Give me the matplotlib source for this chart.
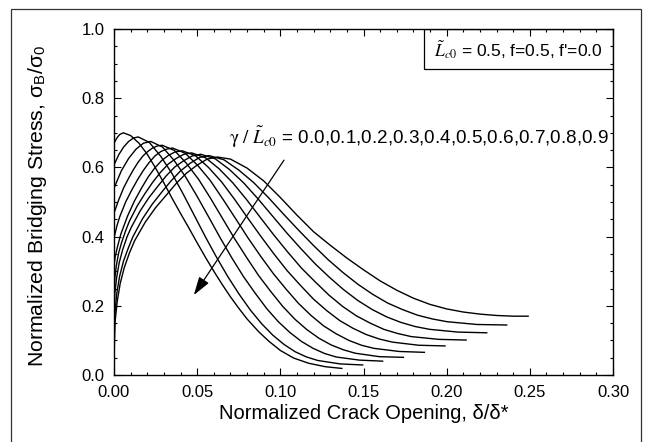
import matplotlib
matplotlib.use("Agg")
import matplotlib.pyplot as plt
from matplotlib.patches import Rectangle
from matplotlib.ticker import MultipleLocator, FormatStrFormatter

plt.rcParams["font.family"] = ["Liberation Sans", "DejaVu Sans"]
plt.rcParams["mathtext.fontset"] = "stix"

# gamma / L_c0 for each curve
GAMMA = [0.0, 0.1, 0.2, 0.3, 0.4, 0.5, 0.6, 0.7, 0.8, 0.9]

# normalized crack opening delta/delta*
DELTA = [
    [0, 0.0017, 0.0034, 0.0056, 0.010, 0.015, 0.020, 0.025, 0.030, 0.035, 0.040,
     0.045, 0.050, 0.055, 0.060, 0.065, 0.070, 0.075, 0.080, 0.087, 0.093, 0.100,
     0.108, 0.117, 0.127, 0.137],
    [0, 0.0029, 0.0058, 0.0088, 0.0117, 0.0146, 0.0213, 0.0281, 0.0348, 0.0416,
     0.0483, 0.0551, 0.0618, 0.0686, 0.0753, 0.0821, 0.0888, 0.0955, 0.1023,
     0.1090, 0.1158, 0.1225, 0.1360, 0.1495],
    [0, 0.0044, 0.0088, 0.0133, 0.0177, 0.0221, 0.0291, 0.0360, 0.0430, 0.0500,
     0.0570, 0.0639, 0.0709, 0.0779, 0.0848, 0.0918, 0.0988, 0.1057, 0.1127,
     0.1197, 0.1267, 0.1336, 0.1476, 0.1615],
    [0, 0.0029, 0.0058, 0.0087, 0.0116, 0.0145, 0.0174, 0.0203, 0.0232, 0.0261,
     0.0290, 0.0363, 0.0435, 0.0508, 0.0580, 0.0653, 0.0725, 0.0798, 0.0870,
     0.0943, 0.1015, 0.1088, 0.1160, 0.1233, 0.1305, 0.1378, 0.1450, 0.1595,
     0.1740],
    [0, 0.0018, 0.0035, 0.0070, 0.0106, 0.0141, 0.0176, 0.0211, 0.0246, 0.0282,
     0.0317, 0.0352, 0.0428, 0.0503, 0.0579, 0.0655, 0.0731, 0.0806, 0.0882,
     0.0958, 0.1033, 0.1109, 0.1185, 0.1260, 0.1336, 0.1412, 0.1488, 0.1563,
     0.1715, 0.1866],
    [0, 0.0008, 0.0021, 0.0041, 0.0082, 0.0123, 0.0164, 0.0205, 0.0246, 0.0287,
     0.0328, 0.0369, 0.0410, 0.0489, 0.0568, 0.0647, 0.0726, 0.0805, 0.0884,
     0.0963, 0.1042, 0.1121, 0.1200, 0.1279, 0.1358, 0.1437, 0.1516, 0.1595,
     0.1674, 0.1832, 0.1990],
    [0, 0.0005, 0.0014, 0.0028, 0.0047, 0.0070, 0.0093, 0.0140, 0.0187, 0.0234,
     0.0280, 0.0327, 0.0374, 0.0420, 0.0467, 0.0550, 0.0632, 0.0715, 0.0797,
     0.0880, 0.0962, 0.1045, 0.1127, 0.1210, 0.1292, 0.1375, 0.1457, 0.1540,
     0.1622, 0.1705, 0.1787, 0.1952, 0.2117],
    [0, 0.0005, 0.0016, 0.0031, 0.0052, 0.0078, 0.0104, 0.0157, 0.0209, 0.0261,
     0.0313, 0.0365, 0.0418, 0.0470, 0.0522, 0.0608, 0.0694, 0.0780, 0.0866,
     0.0952, 0.1038, 0.1124, 0.1210, 0.1296, 0.1382, 0.1467, 0.1553, 0.1639,
     0.1725, 0.1811, 0.1897, 0.2069, 0.2241],
    [0, 0.0006, 0.0017, 0.0034, 0.0057, 0.0086, 0.0114, 0.0172, 0.0229, 0.0286,
     0.0343, 0.0400, 0.0458, 0.0515, 0.0572, 0.0661, 0.0751, 0.0840, 0.0930,
     0.1019, 0.1109, 0.1198, 0.1288, 0.1377, 0.1467, 0.1556, 0.1645, 0.1735,
     0.1824, 0.1914, 0.2003, 0.2182, 0.2361],
    [0, 0.0006, 0.0019, 0.0037, 0.0062, 0.0093, 0.0124, 0.0187, 0.0249, 0.0311,
     0.0373, 0.0435, 0.0498, 0.0560, 0.0622, 0.070, 0.080, 0.090, 0.100, 0.110,
     0.120, 0.130, 0.140, 0.150, 0.160, 0.170, 0.180, 0.190, 0.200, 0.210, 0.220,
     0.230, 0.240, 0.249],
]

# normalized bridging stress sigma_B/sigma_0
SIGMA = [
    [0.670, 0.685, 0.695, 0.700, 0.692, 0.670, 0.638, 0.598, 0.555, 0.510, 0.467,
     0.425, 0.382, 0.340, 0.300, 0.262, 0.226, 0.193, 0.162, 0.125, 0.098, 0.071,
     0.049, 0.034, 0.024, 0.019],
    [0.607, 0.637, 0.659, 0.675, 0.685, 0.688, 0.672, 0.632, 0.583, 0.523,
     0.461, 0.398, 0.339, 0.283, 0.233, 0.187, 0.148, 0.115, 0.088,
     0.067, 0.052, 0.042, 0.032, 0.029],
    [0.540, 0.590, 0.626, 0.653, 0.670, 0.675, 0.659, 0.621, 0.573, 0.516,
     0.456, 0.396, 0.338, 0.284, 0.237, 0.192, 0.154, 0.123, 0.097,
     0.077, 0.062, 0.052, 0.043, 0.040],
    [0.468, 0.507, 0.541, 0.568, 0.593, 0.615, 0.633, 0.646, 0.656, 0.662,
     0.664, 0.649, 0.612, 0.566, 0.511, 0.452, 0.394, 0.339, 0.287,
     0.241, 0.198, 0.161, 0.131, 0.106, 0.087, 0.073, 0.063, 0.053,
     0.051],
    [0.396, 0.432, 0.458, 0.500, 0.534, 0.564, 0.591, 0.614, 0.633, 0.646,
     0.653, 0.656, 0.641, 0.606, 0.562, 0.508, 0.452, 0.396, 0.343,
     0.293, 0.249, 0.207, 0.172, 0.142, 0.119, 0.100, 0.086, 0.077,
     0.068, 0.0655],
    [0.318, 0.344, 0.371, 0.407, 0.460, 0.503, 0.539, 0.572, 0.599, 0.620,
     0.635, 0.645, 0.648, 0.634, 0.600, 0.558, 0.507, 0.453, 0.400,
     0.349, 0.301, 0.259, 0.219, 0.186, 0.157, 0.135, 0.117, 0.104,
     0.095, 0.086, 0.084],
    [0.240, 0.280, 0.316, 0.353, 0.385, 0.417, 0.445, 0.489, 0.525, 0.558,
     0.586, 0.610, 0.626, 0.638, 0.642, 0.628, 0.596, 0.555, 0.507,
     0.455, 0.404, 0.355, 0.309, 0.269, 0.231, 0.198, 0.171, 0.150,
     0.132, 0.120, 0.111, 0.103, 0.101],
    [0.170, 0.236, 0.282, 0.324, 0.362, 0.399, 0.427, 0.474, 0.512, 0.544,
     0.575, 0.601, 0.619, 0.633, 0.638, 0.625, 0.594, 0.555, 0.509,
     0.460, 0.411, 0.365, 0.321, 0.282, 0.246, 0.215, 0.189, 0.168,
     0.152, 0.140, 0.132, 0.124, 0.122],
    [0.090, 0.182, 0.237, 0.286, 0.329, 0.367, 0.400, 0.452, 0.493, 0.528,
     0.561, 0.590, 0.612, 0.629, 0.634, 0.622, 0.592, 0.556, 0.512,
     0.465, 0.419, 0.375, 0.333, 0.296, 0.262, 0.233, 0.208, 0.189,
     0.173, 0.162, 0.154, 0.146, 0.1445],
    [0.040, 0.152, 0.211, 0.264, 0.311, 0.353, 0.388, 0.441, 0.483, 0.518,
     0.553, 0.583, 0.606, 0.624, 0.630, 0.624, 0.598, 0.561, 0.513, 0.462,
     0.414, 0.375, 0.338, 0.304, 0.272, 0.245, 0.222, 0.204, 0.191, 0.182, 0.176,
     0.172, 0.170, 0.170],
]

PARAM_TEXT = r"$\tilde{L}_{c0}$ = 0.5, f=0.5, f'=0.0"
GAMMA_TEXT = (r"$\mathrm{\gamma}\ /\ \tilde{L}_{c0}$ = "
              + ",".join("%.1f" % g for g in GAMMA))

fig = plt.figure(figsize=(6.45, 4.42), dpi=100)
ax = fig.add_axes([114 / 645, 67 / 442, 499 / 645, 346 / 442])

for d, s in zip(DELTA, SIGMA):
    ax.plot(d, s, color="black", lw=1.0, solid_joinstyle="round")

ax.set_xlim(0, 0.30)
ax.set_ylim(0, 1.0)
ax.xaxis.set_major_locator(MultipleLocator(0.05))
ax.xaxis.set_minor_locator(MultipleLocator(0.01))
ax.yaxis.set_major_locator(MultipleLocator(0.2))
ax.yaxis.set_minor_locator(MultipleLocator(0.05))
ax.xaxis.set_major_formatter(FormatStrFormatter("%.2f"))
ax.yaxis.set_major_formatter(FormatStrFormatter("%.1f"))
ax.tick_params(which="both", direction="in", top=True, right=True,
               width=0.8, labelsize=12)
ax.tick_params(which="major", length=5, pad=7)
ax.tick_params(which="minor", length=2.5)
for sp in ax.spines.values():
    sp.set_linewidth(1.0)

ax.set_xlabel("Normalized Crack Opening, δ/δ*", fontsize=14.5)
ax.set_ylabel(r"Normalized Bridging Stress, σ$_\mathregular{B}$/σ$_\mathregular{0}$",
              fontsize=15.3)
ax.xaxis.set_label_coords(0.5, -0.085)
ax.yaxis.set_label_coords(-0.13, 0.49)

# parameter box in the top right corner
ax.add_patch(Rectangle((0.621, 0.884), 0.379, 0.116, transform=ax.transAxes,
                       fill=False, lw=0.9, color="black"))
ax.text(0.811, 0.940, PARAM_TEXT, transform=ax.transAxes, ha="center",
        va="center", fontsize=12.5)

ax.text(0.230, 0.688, GAMMA_TEXT, transform=ax.transAxes, ha="left",
        va="center", fontsize=13.6)
ax.annotate("", xy=(0.048, 0.231), xytext=(0.1022, 0.621),
            arrowprops=dict(arrowstyle="-|>,head_length=0.7,head_width=0.22",
                            color="black", lw=0.9, mutation_scale=16,
                            shrinkA=0, shrinkB=0))

# outer frame around the figure
fig.add_artist(Rectangle((11 / 645, -0.05), 630 / 645, 1.05 - 9 / 442,
                         transform=fig.transFigure, fill=False, lw=0.9,
                         color="#333333"))

fig.savefig("out.png", dpi=100)
